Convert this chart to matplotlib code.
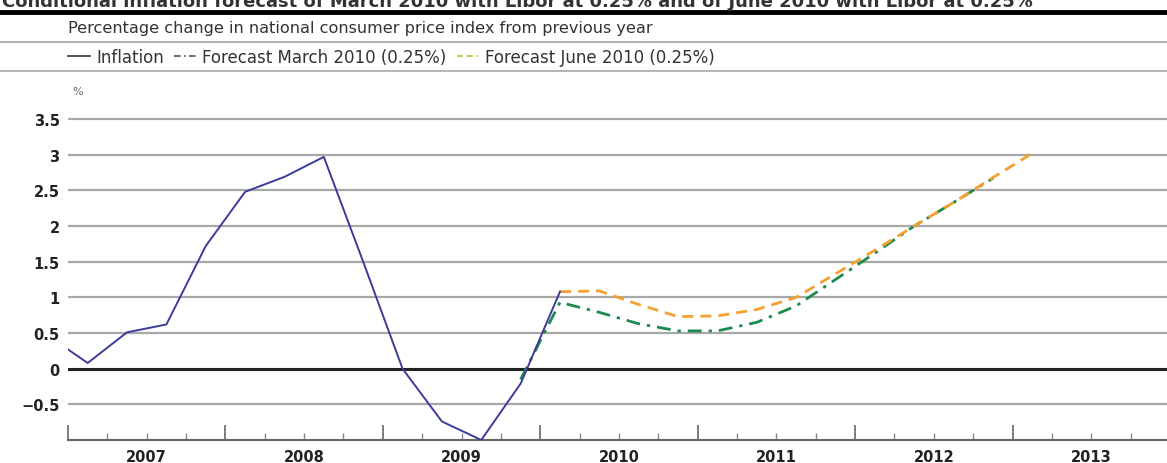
import matplotlib.pyplot as plt
from matplotlib.lines import Line2D

# quarterly values, plotted at the middle of each quarter
inflation_q = ["2006Q4", "2007Q1", "2007Q2", "2007Q3", "2007Q4",
               "2008Q1", "2008Q2", "2008Q3", "2008Q4",
               "2009Q1", "2009Q2", "2009Q3", "2009Q4", "2010Q1"]
inflation = [0.46, 0.08, 0.51, 0.62, 1.72,
             2.48, 2.69, 2.97, 1.50,
             0.0, -0.74, -1.0, -0.21, 1.08]

march_q = ["2009Q4", "2010Q1", "2010Q2", "2010Q3", "2010Q4",
           "2011Q1", "2011Q2", "2011Q3", "2011Q4",
           "2012Q1", "2012Q2", "2012Q3", "2012Q4"]
march = [-0.15, 0.93, 0.79, 0.63, 0.53,
         0.53, 0.65, 0.88, 1.25,
         1.62, 2.0, 2.33, 2.67]

june_q = ["2010Q1", "2010Q2", "2010Q3", "2010Q4",
          "2011Q1", "2011Q2", "2011Q3", "2011Q4",
          "2012Q1", "2012Q2", "2012Q3", "2012Q4", "2013Q1"]
june = [1.08, 1.09, 0.9, 0.73,
        0.74, 0.83, 1.0, 1.33,
        1.66, 2.0, 2.33, 2.68, 3.02]

years = [2007, 2008, 2009, 2010, 2011, 2012, 2013]
yticks = [-0.5, 0, 0.5, 1, 1.5, 2, 2.5, 3, 3.5]
ytick_labels = ["\u22120.5", "0", "0.5", "1", "1.5", "2", "2.5", "3", "3.5"]


def qpos(q):
    """ year + middle of the quarter """
    return int(q[:4]) + (int(q[-1]) - 1) * 0.25 + 0.125


W, H = 1167, 464
fig = plt.figure(figsize=(W / 100, H / 100), dpi=100)
ax = fig.add_axes([68 / W, (H - 441) / H, (1170 - 68) / W, 353 / H])

ax.set_xlim(2007, 2014)
ax.set_ylim(-1, 3.95)

for v in yticks:
    if v == 0:
        ax.axhline(v, color="#222222", lw=2.2, zorder=1)
    else:
        ax.axhline(v, color="#a8a8a8", lw=1.6, zorder=1)

ax.plot([qpos(q) for q in march_q], march, color="#1e8a50", lw=2.0,
        dashes=[5, 2.5, 1.2, 2.5], zorder=3)
ax.plot([qpos(q) for q in june_q], june, color="#f5a030", lw=2.0,
        dashes=[4, 2.5], zorder=4)
ax.plot([qpos(q) for q in inflation_q], inflation, color="#3c3c9a", lw=1.4,
        zorder=5)

for s in ["top", "left", "right"]:
    ax.spines[s].set_visible(False)
ax.spines["bottom"].set_color("#666666")
ax.spines["bottom"].set_linewidth(1.5)

ax.set_yticks(yticks)
ax.set_yticklabels(ytick_labels, fontsize=10.5, fontweight="bold", color="#222222")
ax.tick_params(axis="y", length=0, pad=6)

ax.set_xticks(years + [2014])
ax.set_xticks([y + q * 0.25 for y in years for q in (1, 2, 3)], minor=True)
ax.tick_params(axis="x", which="major", direction="in", length=11, width=1.2,
               color="#666666", labelbottom=False)
ax.tick_params(axis="x", which="minor", direction="in", length=5, width=1.0,
               color="#888888")
for y in years:
    ax.text(y + 0.5, -1.12, str(y), ha="center", va="top", fontsize=10.5,
            fontweight="bold", color="#222222", clip_on=False)

ax.text(2007.03, 3.9, "%", fontsize=8, color="#666666", va="center")

# header (the reference shows this line cut off at the top edge)
fig.text(2 / W, 1 - 7 / H, "Conditional inflation forecast of March 2010 with "
         "Libor at 0.25% and of June 2010 with Libor at 0.25%",
         fontsize=13, fontweight="bold", va="baseline", color="#333333")
fig.add_artist(Line2D([0, 1], [1 - 13 / H, 1 - 13 / H], color="black", lw=3.5))
fig.text(68 / W, 1 - 28 / H,
         "Percentage change in national consumer price index from previous year",
         fontsize=11.6, va="center", color="#333333")
fig.add_artist(Line2D([0, 1], [1 - 43 / H, 1 - 43 / H], color="#b5b5b5", lw=1.5))
fig.add_artist(Line2D([0, 1], [1 - 72 / H, 1 - 72 / H], color="#b5b5b5", lw=1.5))

handles = [
    Line2D([], [], color="#333333", lw=1.2),
    Line2D([], [], color="#555555", lw=1.2, dashes=[4, 2, 1, 2]),
    Line2D([], [], color="#b8cc40", lw=1.4, dashes=[3, 2]),
]
labels = ["Inflation", "Forecast March 2010 (0.25%)", "Forecast June 2010 (0.25%)"]
fig.legend(handles, labels, loc="center left",
           bbox_to_anchor=(68 / W, 1 - 58 / H), ncol=3, frameon=False,
           fontsize=12, handlelength=1.3, handletextpad=0.4,
           columnspacing=0.6, borderaxespad=0, borderpad=0,
           labelcolor="#333333")

fig.savefig("out.png", dpi=100)
